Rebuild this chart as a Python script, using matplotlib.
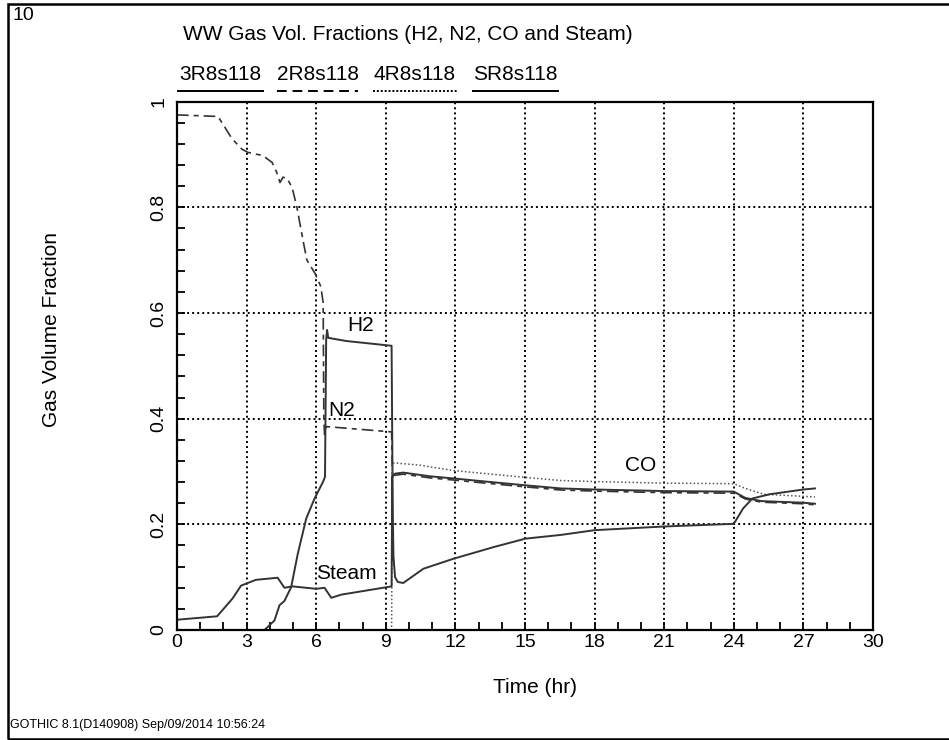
#!/usr/bin/env python3

import matplotlib.pyplot as plt
import matplotlib as mpl
from matplotlib.ticker import MultipleLocator

plt.rcParams['font.family'] = ['Liberation Sans', 'DejaVu Sans']

# GOTHIC output, time in hours
H2_T = [0, 3.77, 4.2, 4.42, 4.63, 4.92, 5.21, 5.57, 5.93, 6.29, 6.38, 6.43, 6.47, 6.52, 7.3, 9.25,
        9.29, 9.4, 9.75, 10.9, 11.9, 13.07, 15, 16.54, 18, 21, 24, 24.5, 25.2, 27, 27.5]
H2_V = [0, 0, 0.018, 0.047, 0.055, 0.081, 0.145, 0.211, 0.249, 0.28, 0.29, 0.55, 0.568, 0.553, 0.547, 0.538,
        0.29, 0.296, 0.298, 0.291, 0.287, 0.282, 0.274, 0.268, 0.266, 0.263, 0.262, 0.25, 0.244, 0.241, 0.239]

N2_T = [0, 1.77, 2.37, 2.8, 3.06, 3.7, 4.1, 4.3, 4.44, 4.57, 4.74, 4.96, 5.17, 5.43, 5.6, 5.95, 6.2,
        6.3, 6.33, 6.36, 6.45, 9.25, 9.29, 9.4, 9.75, 10.9, 11.9, 13.07, 15, 16.54, 18, 21, 24, 24.5,
        25.2, 27, 27.5]
N2_V = [0.975, 0.972, 0.93, 0.91, 0.904, 0.898, 0.885, 0.866, 0.847, 0.857, 0.855, 0.838, 0.8, 0.738,
        0.7, 0.675, 0.65, 0.62, 0.40, 0.37, 0.385, 0.375, 0.287, 0.293, 0.295, 0.288, 0.284, 0.279,
        0.271, 0.265, 0.263, 0.26, 0.259, 0.248, 0.242, 0.239, 0.237]

CO_T = [0, 9.25, 9.29, 9.45, 10.48, 11.9, 13.07, 15, 16.54, 18, 21, 24, 24.5, 25.3, 27, 27.5]
CO_V = [0, 0, 0.316, 0.316, 0.312, 0.302, 0.297, 0.289, 0.283, 0.281, 0.278, 0.277, 0.268, 0.257, 0.253, 0.252]

ST_T = [0, 1.73, 2.4, 2.76, 3.4, 4.34, 4.63, 4.99, 6.0, 6.36, 6.65, 7.08, 9.25, 9.28, 9.33, 9.4, 9.52, 9.75,
        10.62, 11.92, 13.65, 15.02, 16.54, 18, 21, 24, 24.4, 24.8, 25.55, 27, 27.5]
ST_V = [0.0195, 0.026, 0.06, 0.084, 0.095, 0.099, 0.08, 0.0826, 0.078, 0.08, 0.061, 0.067, 0.0826, 0.29,
        0.14, 0.10, 0.091, 0.089, 0.116, 0.135, 0.157, 0.173, 0.18, 0.189, 0.196, 0.201, 0.23, 0.249,
        0.257, 0.266, 0.268]

LEGEND = ["3R8s118", "2R8s118", "4R8s118", "SR8s118"]
CURVE_LABELS = {"H2": (7.9, 0.577), "N2": (7.1, 0.415), "CO": (20.0, 0.312), "Steam": (7.3, 0.107)}

LINE = "#333333"
FS = 15

if __name__ == "__main__":
    fig = plt.figure(figsize=(9.49, 7.4), dpi=100)
    ax = fig.add_axes([0.1865, 0.1486, 0.7334, 0.714])

    ax.plot(H2_T, H2_V, color=LINE, lw=1.4)
    ax.plot(N2_T, N2_V, color=LINE, lw=1.2, ls=(0, (7, 3, 3, 3)))
    ax.plot(CO_T, CO_V, color="#555555", lw=1.1, ls=(0, (1, 1.5)))
    ax.plot(ST_T, ST_V, color=LINE, lw=1.4)

    ax.set_xlim(0, 30)
    ax.set_ylim(0, 1)
    ax.xaxis.set_major_locator(MultipleLocator(3))
    ax.xaxis.set_minor_locator(MultipleLocator(1))
    ax.yaxis.set_major_locator(MultipleLocator(0.2))
    ax.yaxis.set_minor_locator(MultipleLocator(0.04))
    ax.yaxis.set_major_formatter(mpl.ticker.FuncFormatter(lambda v, p: f"{v:g}"))

    ax.tick_params(which="both", direction="in", length=6, width=1.3, top=False, right=False,
                   labelsize=14, colors="black")
    ax.tick_params(axis="x", pad=3)
    ax.tick_params(axis="y", pad=7)
    for lbl in ax.get_yticklabels():
        lbl.set_rotation(90)
        lbl.set_va("center")

    ax.grid(True, which="major", color="black", ls=(0, (1, 1.6)), lw=1.4)
    for s in ax.spines.values():
        s.set_linewidth(1.6)

    ax.set_xlabel("Time (hr)", fontsize=FS, va="center")
    ax.set_ylabel("Gas Volume Fraction", fontsize=FS, va="center")
    ax.xaxis.set_label_coords(0.515, -57 / 528)
    ax.yaxis.set_label_coords(-125 / 696, 0.568)

    for name, (x, y) in CURVE_LABELS.items():
        ax.text(x, y, name, fontsize=FS, ha="center", va="center")

    # page furniture
    fig.text(12 / 949, 1 - 16 / 740, "10", fontsize=14, va="center")
    fig.text(183 / 949, 1 - 35 / 740, "WW Gas Vol. Fractions (H2, N2, CO and Steam)",
             fontsize=FS, va="center")
    fig.text(10 / 949, 1 - 725 / 740, "GOTHIC 8.1(D140908) Sep/09/2014 10:56:24",
             fontsize=9, va="center")

    legend_x = [(178, 263), (277, 358), (373, 457), (473, 558)]
    legend_ls = ["-", (0, (5, 3)), (0, (1, 1)), "-"]
    for name, (x0, x1), ls in zip(LEGEND, legend_x, legend_ls):
        fig.text((x0 + x1) / 2 / 949, 1 - 75 / 740, name, fontsize=FS, ha="center", va="center")
        fig.add_artist(mpl.lines.Line2D([x0 / 949, x1 / 949], [1 - 91 / 740] * 2,
                                        color="black", lw=1.4, ls=ls, transform=fig.transFigure))

    fig.add_artist(mpl.patches.Rectangle((8 / 949, 1 - 739 / 740), 1.0, 735 / 740, fill=False,
                                         lw=1.8, edgecolor="black", transform=fig.transFigure))

    fig.savefig("out.png", dpi=100)
